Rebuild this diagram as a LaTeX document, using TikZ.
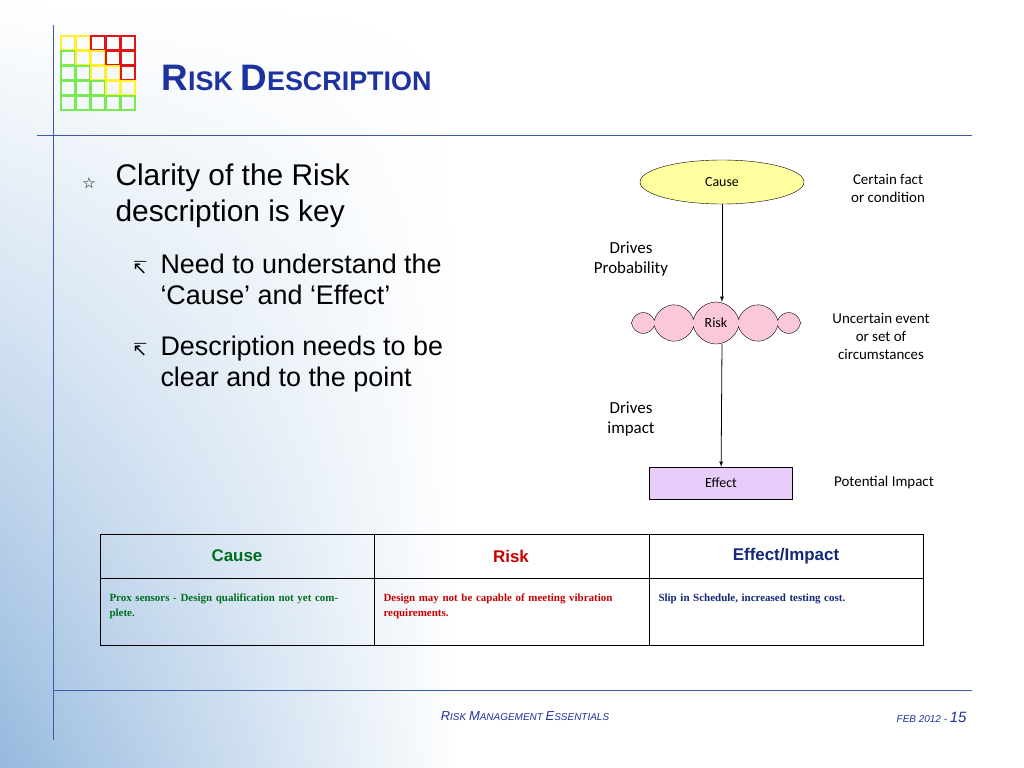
\documentclass[tikz,border=0pt]{standalone}
\usepackage{fontspec}
\setmainfont{Liberation Sans}
\newfontfamily\dejavu{DejaVu Sans}
\newfontfamily\calib{Carlito}
\newfontfamily\tnrfont{Liberation Serif}
\usetikzlibrary{shapes,positioning,arrows,shadings}
\definecolor{rule}{RGB}{60,90,170}
\definecolor{titleblue}{RGB}{30,50,160}
\definecolor{causeyel}{RGB}{255,255,160}
\definecolor{riskpink}{RGB}{250,200,215}
\definecolor{effviolet}{RGB}{230,205,250}
\definecolor{cgreen}{RGB}{0,110,30}
\definecolor{cred}{RGB}{200,0,0}
\definecolor{cnavy}{RGB}{20,40,120}
\definecolor{skyblue}{RGB}{150,185,222}
\definecolor{gyel}{RGB}{255,240,40}
\definecolor{gred}{RGB}{225,20,20}
\definecolor{ggreen}{RGB}{120,235,80}
\tikzset{
	flow/.style   = {draw, thin, font=\calib\fontsize{14}{16}\selectfont, minimum height=32bp},
	note/.style   = {font=\calib\fontsize{15}{18}\selectfont, align=center},
	drive/.style  = {font=\calib\fontsize{17}{21}\selectfont, align=center},
	head/.style   = {font=\bfseries\fontsize{17}{20}\selectfont},
	cell/.style   = {font=\tnrfont\bfseries\fontsize{11}{15}\selectfont, align=left, text width=238bp, anchor=north west}
}
\begin{document}
\begin{tikzpicture}[x=1bp,y=-1bp,>=latex]
	\useasboundingbox (0,0) rectangle (1024,768);
	% background
	\fill[white] (0,0) rectangle (1024,768);
	\shade[upper left=white, upper right=white, lower left=skyblue, lower right=white] (0,0) rectangle (460,768);
	% logo grid
	\foreach \row/\cols in {0/{gyel,gyel,gred,gred,gred},1/{ggreen,gyel,gyel,gred,gred},2/{ggreen,ggreen,gyel,gyel,gred},3/{ggreen,ggreen,ggreen,gyel,gyel},4/{ggreen,ggreen,ggreen,ggreen,ggreen}}{
		\foreach \c [count=\i from 0] in \cols
		\draw[\c, line width=1.5bp] (61+\i*15,36+\row*15) rectangle ++(14,14);
	}
	% rules
	\draw[rule, thick] (53,25) -- (53,740);
	\draw[rule, thick] (37,135) -- (972,135);
	\draw[rule, thick] (53,690) -- (972,690);
	\node[anchor=west, text=titleblue, font=\bfseries] (title) at (158,78)
		{\fontsize{37}{40}\selectfont R\fontsize{27}{30}\selectfont ISK \fontsize{37}{40}\selectfont D\fontsize{27}{30}\selectfont ESCRIPTION};
	% bullets
	\node[font=\dejavu\fontsize{15}{18}\selectfont] (b1) at (89,183) {☆};
	\node[anchor=north west, align=left, font=\fontsize{30}{36}\selectfont] (t1) at (112,160) {Clarity of the Risk\\description is key};
	\node[font=\dejavu\fontsize{18}{20}\selectfont] (b2) at (140,268) {↸};
	\node[anchor=north west, align=left, font=\fontsize{27}{32}\selectfont] (t2) at (157,250) {Need to understand the\\‘Cause’ and ‘Effect’};
	\node[font=\dejavu\fontsize{18}{20}\selectfont] (b3) at (140,350) {↸};
	\node[anchor=north west, align=left, font=\fontsize{27}{32}\selectfont] (t3) at (157,332) {Description needs to be\\clear and to the point};
	% flow
	\node[flow, ellipse, fill=causeyel, minimum width=164bp, minimum height=44bp] (cause) at (722,182) {Cause};
	\node[flow, cloud, cloud puffs=12, aspect=4.5, fill=riskpink, minimum width=170bp, minimum height=42bp, inner sep=0pt] (risk) at (716,323) {Risk};
	\node[flow, rectangle, fill=effviolet, minimum width=143bp] (effect) at (721,483) {Effect};
	\draw[->, thick] (cause) -- (cause |- risk.north);
	\draw[->, thick] (cause |- risk.south) -- (effect);
	\node[note] (n1) at (888,188) {Certain fact\\or condition};
	\node[note] (n2) at (881,336) {Uncertain event\\or set of\\circumstances};
	\node[note] (n3) at (884,483) {Potential Impact};
	\node[drive] (d1) at (631,259) {Drives\\Probability};
	\node[drive] (d2) at (631,419) {Drives\\impact};
	% table
	\draw[thin] (100,534) rectangle (923,645);
	\draw[thin] (100,578) -- (923,578);
	\draw[thin] (374,534) -- (374,645) (649,534) -- (649,645);
	\node[head, text=cgreen] (h1) at (237,556) {Cause};
	\node[head, text=cred] (h2) at (511,556) {Risk};
	\node[head, text=cnavy] (h3) at (786,556) {Effect/Impact};
	\node[cell, text=cgreen] (c1) at (106,590) {Prox sensors - Design qualification not yet complete.};
	\node[cell, text=cred] (c2) at (380,590) {Design may not be capable of meeting vibration requirements.};
	\node[cell, text=cnavy] (c3) at (655,590) {Slip in Schedule, increased testing cost.};
	% footer
	\node[text=titleblue, font=\itshape] (foot) at (525,716)
		{\fontsize{13}{15}\selectfont R\fontsize{10}{12}\selectfont ISK \fontsize{13}{15}\selectfont M\fontsize{10}{12}\selectfont ANAGEMENT \fontsize{13}{15}\selectfont E\fontsize{10}{12}\selectfont SSENTIALS};
	\node[anchor=east, text=titleblue, font=\itshape] (page) at (970,717)
		{\fontsize{10}{12}\selectfont FEB 2012 - \fontsize{15}{17}\selectfont 15};
\end{tikzpicture}
\end{document}
